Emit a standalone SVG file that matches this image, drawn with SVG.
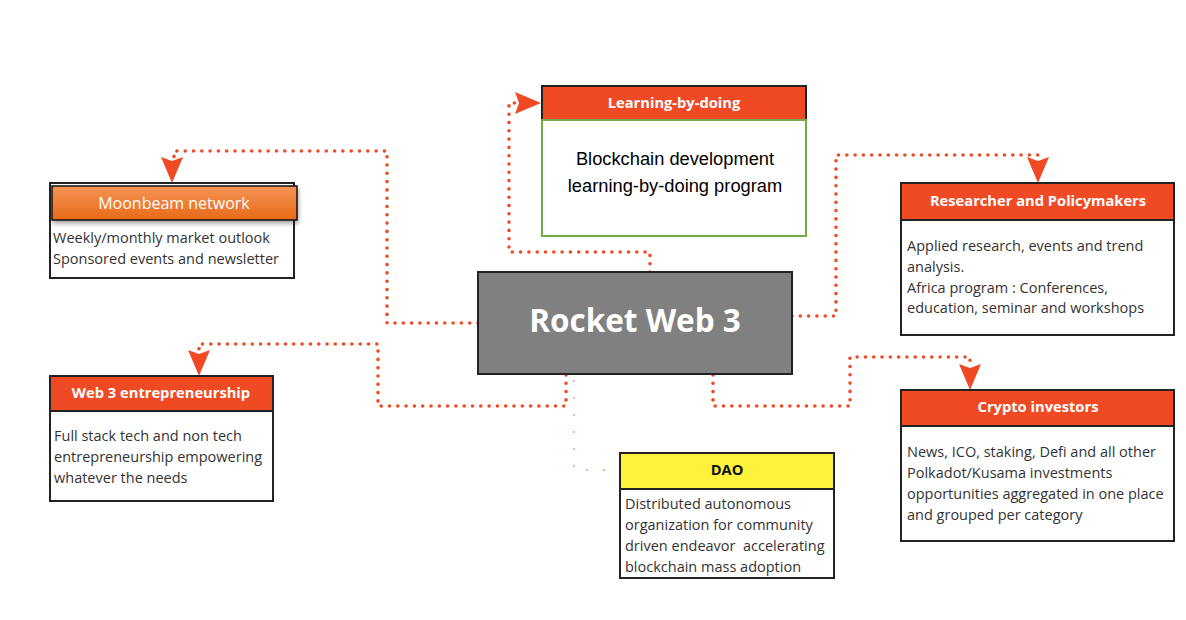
<svg xmlns="http://www.w3.org/2000/svg" width="1186" height="620" viewBox="0 0 1186 620">
<defs>
<linearGradient id="og" x1="0" y1="0" x2="0" y2="1">
<stop offset="0" stop-color="#F59455"/>
<stop offset="1" stop-color="#E86A18"/>
</linearGradient>
<filter id="sh" x="-10%" y="-30%" width="120%" height="170%">
<feDropShadow dx="1" dy="3" stdDeviation="2" flood-color="#000" flood-opacity="0.35"/>
</filter>
<path id="ah" d="M0,0 L-11,-26 L0,-22 L11,-26 Z" fill="#F04A25"/>
</defs>
<style>
.hd{fill:#F04A25;stroke:#222;stroke-width:2}
.bd{fill:#fff;stroke:#222;stroke-width:2}
.ht{font-family:"Open Sans","Liberation Sans",sans-serif;font-weight:bold;font-size:14.7px;fill:#fff;text-anchor:middle}
.bt{font-family:"Open Sans","Liberation Sans",sans-serif;font-size:14.5px;fill:#333;white-space:pre}
.cn{fill:none;stroke:#F04A25;stroke-width:3.6;stroke-linecap:round;stroke-dasharray:0 8.3}
.cn2{fill:none;stroke:#F04A25;stroke-width:1.6;stroke-linecap:round;stroke-dasharray:0 17}
</style>
<rect width="1186" height="620" fill="#fff"/>
<g id="connectors">
<path class="cn" d="M478,323 H387 V151 H174 V160"/>
<path class="cn" d="M650,272 V252 H509 V103 H518"/>
<path class="cn" d="M792,316 H836 V155 H1038 V160"/>
<path class="cn" d="M566,375 V406 H378 V344 H199 V352"/>
<path class="cn" d="M713,375 V406 H850 V357 H970 V366"/>
<path class="cn2" d="M574,381 V470 H618"/>
<use href="#ah" transform="translate(172,183)"/>
<use href="#ah" transform="translate(541,103) rotate(-90)"/>
<use href="#ah" transform="translate(1038,183)"/>
<use href="#ah" transform="translate(199,376)"/>
<use href="#ah" transform="translate(970,390)"/>
</g>
<g id="center">
<rect x="478" y="272" width="314" height="102" fill="#808080" stroke="#222" stroke-width="2"/>
<text x="635" y="332" font-family="'Open Sans','Liberation Sans',sans-serif" font-weight="bold" font-size="31.5" fill="#fff" text-anchor="middle">Rocket Web 3</text>
</g>
<g id="learning">
<rect x="542" y="86" width="264" height="34" class="hd"/>
<rect x="542" y="120" width="264" height="116" fill="#fff" stroke="#70AD47" stroke-width="2"/>
<text x="674" y="108" class="ht">Learning-by-doing</text>
<text x="675" y="165" font-family="'Liberation Sans',sans-serif" font-size="18.3" fill="#000" text-anchor="middle">Blockchain development</text>
<text x="675" y="192" font-family="'Liberation Sans',sans-serif" font-size="18.3" fill="#000" text-anchor="middle">learning-by-doing program</text>
</g>
<g id="moonbeam">
<rect x="50" y="183" width="244" height="95" class="bd"/>
<rect x="52" y="186" width="245" height="34" fill="url(#og)" stroke="#111" stroke-width="1.5" filter="url(#sh)"/>
<text x="174" y="209" font-family="'Open Sans','Liberation Sans',sans-serif" font-size="16" fill="#fff" text-anchor="middle">Moonbeam network</text>
<text x="53" y="243" class="bt">Weekly/monthly market outlook</text>
<text x="53" y="264" class="bt">Sponsored events and newsletter</text>
</g>
<g id="researcher">
<rect x="901" y="183" width="273" height="152" class="bd"/>
<rect x="901" y="183" width="273" height="37" class="hd"/>
<text x="1038" y="206" class="ht">Researcher and Policymakers</text>
<text x="907" y="251" class="bt">Applied research, events and trend</text>
<text x="907" y="272" class="bt">analysis.</text>
<text x="907" y="293" class="bt">Africa program : Conferences,</text>
<text x="907" y="313" class="bt">education, seminar and workshops</text>
</g>
<g id="web3">
<rect x="50" y="376" width="223" height="125" class="bd"/>
<rect x="50" y="376" width="223" height="35" class="hd"/>
<text x="161" y="398" class="ht">Web 3 entrepreneurship</text>
<text x="54" y="441" class="bt">Full stack tech and non tech</text>
<text x="54" y="462" class="bt">entrepreneurship empowering</text>
<text x="54" y="483" class="bt">whatever the needs</text>
</g>
<g id="dao">
<rect x="620" y="453" width="214" height="125" class="bd"/>
<rect x="620" y="453" width="214" height="36" fill="#FFF23A" stroke="#222" stroke-width="2"/>
<text x="727" y="475" class="ht" style="fill:#111">DAO</text>
<text x="625" y="509" class="bt">Distributed autonomous</text>
<text x="625" y="530" class="bt">organization for community</text>
<text x="625" y="551" class="bt">driven endeavor  accelerating</text>
<text x="625" y="572" class="bt">blockchain mass adoption</text>
</g>
<g id="crypto">
<rect x="901" y="390" width="273" height="151" class="bd"/>
<rect x="901" y="390" width="273" height="36" class="hd"/>
<text x="1038" y="412" class="ht">Crypto investors</text>
<text x="907" y="457" class="bt">News, ICO, staking, Defi and all other</text>
<text x="907" y="478" class="bt">Polkadot/Kusama investments</text>
<text x="907" y="499" class="bt">opportunities aggregated in one place</text>
<text x="907" y="520" class="bt">and grouped per category</text>
</g>
</svg>
